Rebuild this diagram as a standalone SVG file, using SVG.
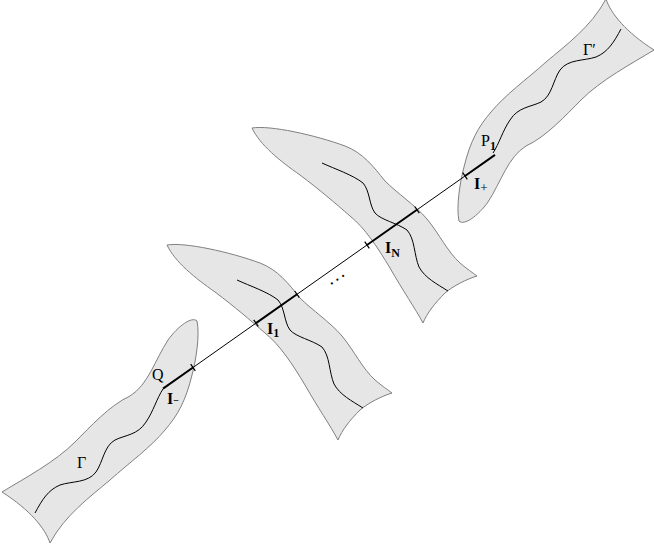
<svg xmlns="http://www.w3.org/2000/svg" xmlns:xlink="http://www.w3.org/1999/xlink" width="654" height="552" viewBox="0 0 654 552">
<style>
.blob{fill:#e6e6e6;stroke:#808080;stroke-width:1}
.curve{fill:none;stroke:#000;stroke-width:1}
.thin{fill:none;stroke:#000;stroke-width:1}
.thick{fill:none;stroke:#000;stroke-width:2}
.tick{fill:none;stroke:#000;stroke-width:1.2}
.t{font-family:"Liberation Serif","Times New Roman",serif;fill:#000}
.b{font-weight:bold}
</style>
<defs>
<path id="shapeA" d="M2,492 C25,478 55,462 75,442 C90,427 110,405 130,396 C148,385 155,360 168,340 C178,326 192,316 197,321 C200,335 196,360 192,375 C186,400 178,415 165,430 C150,448 130,462 110,480 C90,497 65,515 50,543 C45,528 30,510 2,492 Z"/>
<path id="curveA" d="M35,513 C42,500 48,490 60,485 C72,481 88,483 96,472 C103,462 104,446 115,440 C125,435 138,435 146,422 C153,412 157,398 163,389"/>
<path id="shapeB" d="M167,245 C185,242 230,252 260,263 C278,270 288,283 300,298 C312,310 330,322 342,336 C355,352 362,368 375,380 C382,386 388,390 392,393 C382,396 368,403 360,410 C350,420 342,430 338,440 C330,425 318,408 305,385 C293,365 280,345 265,333 C250,320 235,307 215,292 C195,278 175,262 167,245 Z"/>
<path id="curveB" d="M237,280 C250,286 268,292 278,300 C285,308 284,322 290,330 C296,337 312,340 322,347 C330,356 329,372 334,384 C340,395 352,401 363,408"/>
</defs>
<g id="node-gamma">
<use xlink:href="#shapeA" class="blob"/>
<use xlink:href="#curveA" class="curve"/>
<text class="t" x="77" y="468" font-size="16">Γ</text>
<text class="t" x="152" y="380" font-size="16">Q</text>
</g>
<g id="node-i1">
<use xlink:href="#shapeB" class="blob"/>
<use xlink:href="#curveB" class="curve"/>
</g>
<g id="node-in">
<g transform="translate(85,-117)">
<use xlink:href="#shapeB" class="blob"/>
<use xlink:href="#curveB" class="curve"/>
</g>
</g>
<g id="node-gammaprime">
<g transform="rotate(180,328,271)">
<use xlink:href="#shapeA" class="blob"/>
<use xlink:href="#curveA" class="curve"/>
</g>
<text class="t" x="583" y="55" font-size="16">Γ′</text>
<text class="t" x="481" y="146" font-size="16">P<tspan class="b" font-size="12" dy="4">1</tspan></text>
</g>
<g id="connectors">
<path class="thin" d="M193,367.5 L256,323.1 M297,294.3 L367,245 M417,209.8 L465,176"/>
<path class="thick" d="M163,388.6 L193,367.5 M256,323.1 L297,294.3 M367,245 L417,209.8 M465,176 L495,154.9"/>
<path class="tick" d="M190.7,364.2 L195.3,370.8 M253.7,319.8 L258.3,326.4 M294.7,291 L299.3,297.6 M364.7,241.7 L369.3,248.3 M414.7,206.5 L419.3,213.1 M462.7,172.7 L467.3,179.3"/>
</g>
<g id="labels">
<text class="t b" x="167" y="404" font-size="16">I<tspan font-size="10" dy="0">−</tspan></text>
<text class="t b" x="267" y="334" font-size="16">I<tspan font-size="12" dy="3">1</tspan></text>
<text class="t b" x="385" y="253" font-size="16">I<tspan font-size="12" dy="4">N</tspan></text>
<text class="t b" x="474" y="189" font-size="16">I<tspan font-size="13" font-weight="normal" dy="3">+</tspan></text>
<text class="t b" x="0" y="0" font-size="13" letter-spacing="3.5" transform="translate(331,285) rotate(-34)">...</text>
</g>
</svg>
